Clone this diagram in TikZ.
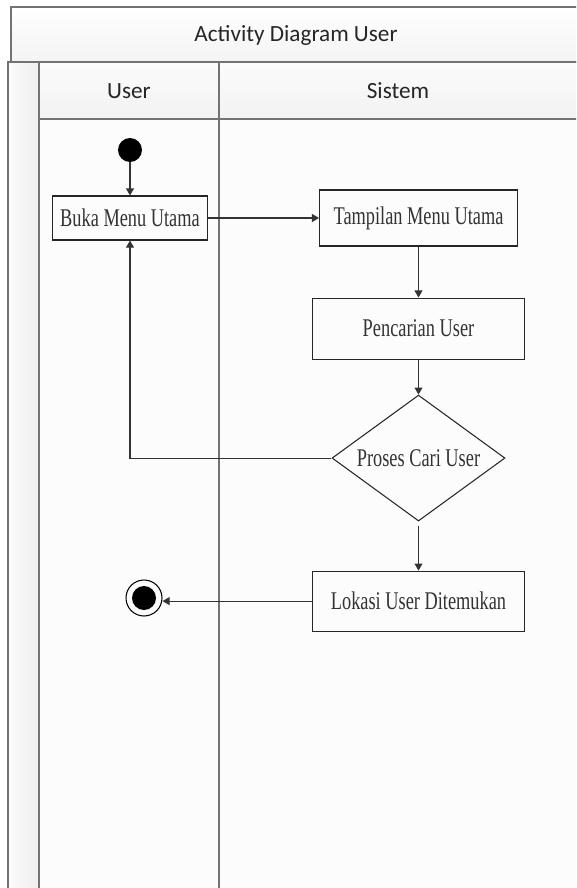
\documentclass[tikz,border=0pt]{standalone}
\usepackage{fontspec}
\setmainfont{Liberation Serif}
\newfontfamily\lanefont{Carlito}
\newfontfamily\actfont[FakeStretch=0.72]{Liberation Serif}
\usetikzlibrary{positioning,shapes.geometric,arrows.meta}

\begin{document}
\begin{tikzpicture}[
		x=0.02cm, y=-0.02cm,
		lane/.style = {draw=black!55, line width=0.6pt},
		lanelabel/.style = {font=\lanefont\fontsize{13.2}{15}\selectfont, text=black!85},
		action/.style = {
			draw=black!85, rectangle, line width=0.6pt,
			font=\actfont\fontsize{14.5}{16}\selectfont, text=black!80,
			inner sep=0pt
		},
		decision/.style = {
			draw=black!85, diamond, aspect=1.37, line width=0.6pt,
			minimum width=3.46cm, minimum height=2.52cm, inner sep=0pt,
			font=\actfont\fontsize{14.5}{16}\selectfont, text=black!80
		},
		start/.style = {circle, fill=black, minimum size=0.48cm, inner sep=0pt},
		stop/.style = {
			circle, draw, line width=0.6pt, minimum size=0.72cm, inner sep=0pt,
			path picture={\fill (path picture bounding box.center) circle (0.24cm);}
		},
		flow/.style = {draw=black!80, line width=0.6pt, -{Triangle[length=4pt,width=4.5pt]}}
		]
		\clip (0,0) rectangle (576,888);
		\fill[white] (0,0) rectangle (576,888);
		\shade[top color=white, bottom color=gray!9] (11,7) rectangle (580,62);
		\draw[lane] (11,7) rectangle (580,62);
		\shade[left color=gray!3, right color=gray!13] (8,62) rectangle (39,892);
		\draw[lane] (8,62) rectangle (39,892);
		\fill[gray!2] (39,119) rectangle (580,892);
		\shade[top color=gray!3, bottom color=gray!10] (39,62) rectangle (580,119);
		\draw[lane] (39,62) rectangle (580,892);
		\draw[lane] (39,119) -- (580,119);
		\draw[lane] (219,62) -- (219,892);
		\node[lanelabel] (judul) at (296,35) {Activity Diagram User};
		\node[lanelabel] (userlane) at (129,91) {User};
		\node[lanelabel] (sistemlane) at (398,91) {Sistem};
		\node[start] (mulai) at (130,150) {};
		\node[action, minimum width=3.1cm, minimum height=0.88cm] (buka) at (130,218) {Buka Menu Utama};
		\node[action, minimum width=3.96cm, minimum height=1.12cm, right=2.22cm of buka] (tampil) {Tampilan Menu Utama};
		\node[action, minimum width=4.24cm, minimum height=1.22cm, below=1.02cm of tampil] (cari) {Pencarian User};
		\node[decision, below=0.7cm of cari] (proses) {Proses Cari User};
		\node[action, minimum width=4.24cm, minimum height=1.2cm, below=0.98cm of proses] (lokasi) {Lokasi User Ditemukan};
		\node[stop] (selesai) at (144,598) {};
		\draw[flow] (mulai) -- (buka);
		\draw[flow] (buka) -- (tampil);
		\draw[flow] (tampil) -- (cari);
		\draw[flow] (cari) -- (proses);
		\draw[flow] ([yshift=-0.08cm]proses.south) -- (lokasi);
		\draw[flow] (proses.west) -| (buka.south);
		\draw[flow] (lokasi.west) -- (lokasi.west -| selesai.east);
	\end{tikzpicture}
\end{document}
